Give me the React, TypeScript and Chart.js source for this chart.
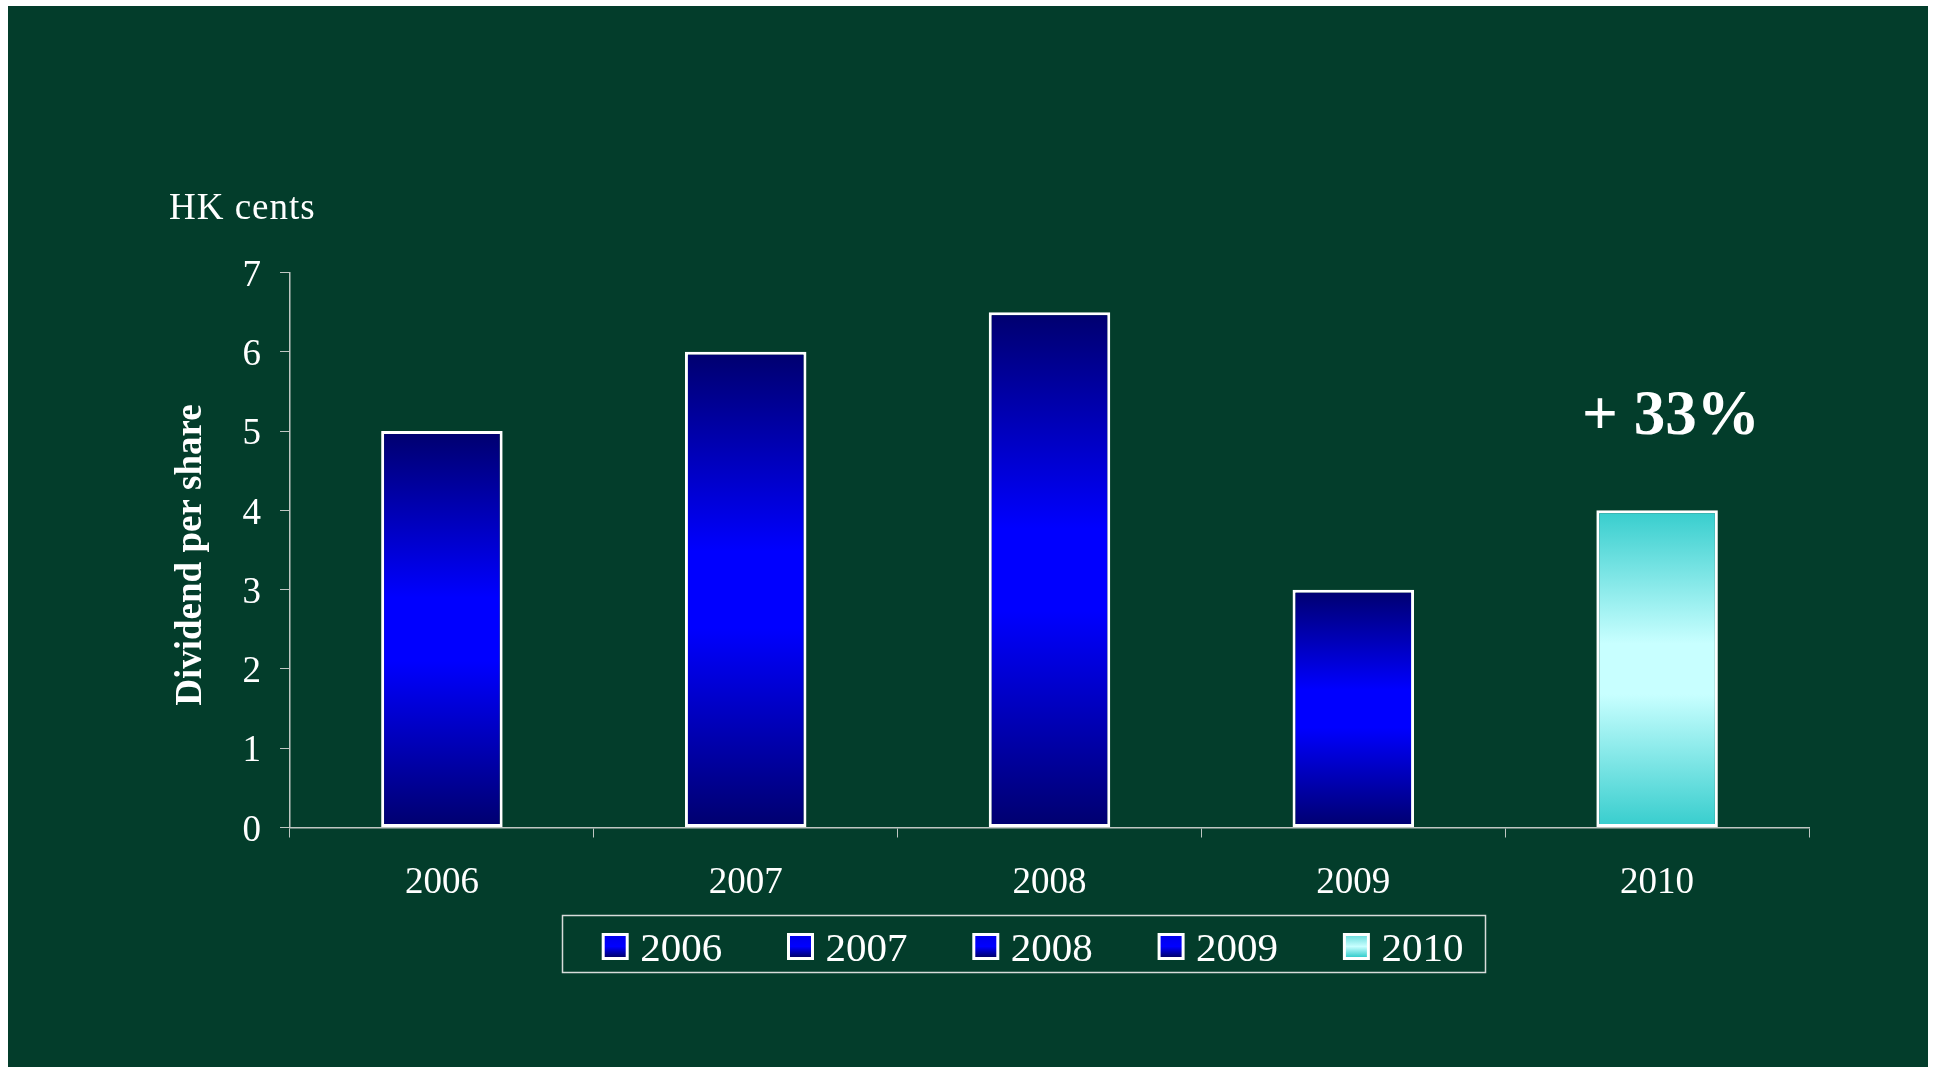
import React, { useEffect, useRef } from "react";
import { Chart, registerables } from "chart.js";

Chart.register(...registerables);

// ---- data ----
const categories = ["2006", "2007", "2008", "2009", "2010"];
const dividendValues = [5, 6, 6.5, 3, 4];
const yMin = 0;
const yMax = 7;
const yStep = 1;
const unitLabel = "HK cents";
const axisTitle = "Dividend per share";
const growthLabel = "+ 33%";

// ---- styles ----
const BG = "#033D2B";
const EDGE_COLORS = ["#00006E", "#00006E", "#00006E", "#00006E", "#36CDCD"];
const MID_COLORS = ["#0000FF", "#0000FF", "#0000FF", "#0000FF", "#C8FFFF"];
const MARK_TOP = ["#0000E8", "#0000E8", "#0000E8", "#0000E8", "#70DEDE"];
const AXIS_COLOR = "#BFC6C2";
const FONT = "'Liberation Serif', 'Times New Roman', serif";

function barGradient(c: CanvasRenderingContext2D, top: number, bottom: number, i: number) {
  const g = c.createLinearGradient(0, top, 0, bottom);
  g.addColorStop(0, EDGE_COLORS[i]);
  g.addColorStop(0.42, MID_COLORS[i]);
  g.addColorStop(0.58, MID_COLORS[i]);
  g.addColorStop(1, EDGE_COLORS[i]);
  return g;
}

const bgPlugin = {
  id: "bgFill",
  beforeDraw(chart: any) {
    const c = chart.ctx;
    c.save();
    c.fillStyle = BG;
    c.fillRect(0, 0, chart.width, chart.height);
    c.restore();
  },
};

const textPlugin = {
  id: "extraTexts",
  afterDraw(chart: any) {
    const c: CanvasRenderingContext2D = chart.ctx;
    const area = chart.chartArea;
    c.save();
    c.fillStyle = "#FFFFFF";
    c.textAlign = "left";
    c.textBaseline = "alphabetic";
    c.font = `37px ${FONT}`;
    (c as any).letterSpacing = "1px";
    c.fillText(unitLabel, 161, 213);
    (c as any).letterSpacing = "0px";
    c.font = `bold 63px ${FONT}`;
    c.fillText(growthLabel, 1574, 428);
    // y axis title
    c.save();
    c.translate(183, (area.top + area.bottom) / 2 + 5);
    c.rotate(-Math.PI / 2);
    c.textAlign = "center";
    c.textBaseline = "middle";
    c.font = `bold 37px ${FONT}`;
    c.fillText(axisTitle, 0, 0);
    c.restore();
    c.restore();
  },
};

const legendPlugin = {
  id: "boxLegend",
  afterDraw(chart: any) {
    const c: CanvasRenderingContext2D = chart.ctx;
    const labels: string[] = chart.data.labels;
    c.save();
    c.strokeStyle = "#D8DCDA";
    c.lineWidth = 1.5;
    c.strokeRect(554.5, 909.5, 923, 57);
    const size = 27;
    const top = 927;
    labels.forEach((lab, i) => {
      const left = 593.7 + i * 185.3;
      c.fillStyle = "#FFFFFF";
      c.fillRect(left, top, size, size);
      const g = c.createLinearGradient(0, top + 3, 0, top + size - 3);
      g.addColorStop(0, MARK_TOP[i]);
      g.addColorStop(0.5, MID_COLORS[i]);
      g.addColorStop(1, EDGE_COLORS[i]);
      c.fillStyle = g;
      c.fillRect(left + 3, top + 3, size - 6, size - 6);
      c.fillStyle = "#FFFFFF";
      c.font = `41px ${FONT}`;
      c.textAlign = "left";
      c.textBaseline = "alphabetic";
      c.fillText(lab, left + 38.5, 955);
    });
    c.restore();
  },
};

export default function App() {
  const ref = useRef<HTMLCanvasElement | null>(null);

  useEffect(() => {
    document.body.style.overflow = "hidden";
    const canvas = ref.current;
    if (!canvas) return;
    const chart = new Chart(canvas, {
      type: "bar",
      data: {
        labels: categories,
        datasets: [
          {
            label: axisTitle,
            data: dividendValues,
            backgroundColor: (ctx: any) => {
              const ch = ctx.chart;
              const y = ch.scales?.y;
              const i = ctx.dataIndex ?? 0;
              if (!y || typeof ctx.raw !== "number") return MID_COLORS[i] || "#0000FF";
              const top = y.getPixelForValue(ctx.raw);
              const bottom = y.getPixelForValue(0);
              if (!isFinite(top) || !isFinite(bottom) || top === bottom) return MID_COLORS[i] || "#0000FF";
              return barGradient(ch.ctx, top, bottom, i);
            },
            borderColor: "#FFFFFF",
            borderWidth: 3,
            borderSkipped: false,
            barPercentage: 0.4,
            categoryPercentage: 1.0,
          },
        ],
      },
      options: {
        responsive: false,
        animation: false,
        devicePixelRatio: 1,
        layout: { padding: { top: 266.5, right: 119, bottom: 0, left: 0 } },
        plugins: {
          legend: { display: false },
          tooltip: { enabled: false },
          title: { display: false },
        },
        scales: {
          x: {
            type: "category",
            grid: {
              display: true,
              offset: true,
              drawOnChartArea: false,
              drawTicks: true,
              tickLength: 10,
              color: AXIS_COLOR,
              lineWidth: 1,
            },
            border: { display: true, color: AXIS_COLOR, width: 1.5 },
            ticks: {
              color: "#FFFFFF",
              font: { family: FONT, size: 37 },
              padding: 24,
              maxRotation: 0,
            },
            afterFit: (s: any) => {
              s.height = 1061 - 821.5;
            },
          },
          y: {
            min: yMin,
            max: yMax,
            grid: {
              display: true,
              drawOnChartArea: false,
              drawTicks: true,
              tickLength: 10,
              color: AXIS_COLOR,
              lineWidth: 1,
            },
            border: { display: true, color: AXIS_COLOR, width: 1.5 },
            ticks: {
              stepSize: yStep,
              color: "#FFFFFF",
              font: { family: FONT, size: 37, lineHeight: "7px" },
              padding: 19,
              callback: (v: any) => ["", String(v)],
            },
            title: { display: false },
            afterFit: (s: any) => {
              s.width = 282;
            },
          },
        },
      },
      plugins: [bgPlugin, textPlugin, legendPlugin],
    });
    return () => chart.destroy();
  }, []);

  return (
    <div style={{ position: "fixed", left: 8, top: 6, width: 1920, height: 1061 }}>
      <canvas ref={ref} width={1920} height={1061} style={{ display: "block", width: 1920, height: 1061 }} />
    </div>
  );
}
